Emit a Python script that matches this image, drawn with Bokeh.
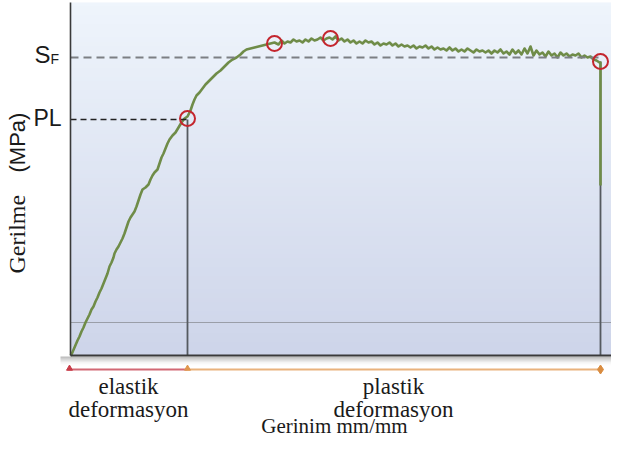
import numpy as np
from bokeh.plotting import figure
from bokeh.core.properties import value
from bokeh.embed import file_html
from bokeh.resources import INLINE

# ---------------- data (strain mm/mm, stress MPa) ----------------
strain = [0.000, 0.001, 0.004, 0.007, 0.009, 0.011, 0.013, 0.015, 0.017, 0.019, 0.021, 0.023, 0.025,
          0.027, 0.029, 0.031, 0.033, 0.035, 0.037, 0.039, 0.041, 0.043, 0.044, 0.046, 0.048, 0.050,
          0.052, 0.054, 0.056, 0.058, 0.060, 0.062, 0.064, 0.066, 0.068, 0.070, 0.072, 0.075, 0.078,
          0.080, 0.082, 0.084, 0.087, 0.089, 0.091, 0.093, 0.095, 0.097, 0.099, 0.102, 0.105, 0.108,
          0.111, 0.114, 0.117, 0.120, 0.122, 0.124, 0.126, 0.129, 0.132, 0.135, 0.138, 0.142, 0.146,
          0.150, 0.154, 0.158, 0.162, 0.166, 0.170, 0.173, 0.176, 0.180, 0.184, 0.188, 0.192, 0.196,
          0.200, 0.204, 0.208, 0.211, 0.214, 0.217, 0.220, 0.223, 0.226, 0.229, 0.232, 0.235, 0.238,
          0.241, 0.244, 0.247, 0.250, 0.253, 0.256, 0.259, 0.262, 0.265, 0.268, 0.271, 0.274, 0.277,
          0.280, 0.283, 0.286, 0.289, 0.292, 0.295, 0.298, 0.301, 0.304, 0.307, 0.310, 0.313, 0.316,
          0.319, 0.322, 0.325, 0.328, 0.331, 0.334, 0.337, 0.340, 0.343, 0.346, 0.349, 0.352, 0.355,
          0.358, 0.361, 0.364, 0.367, 0.370, 0.373, 0.376, 0.379, 0.382, 0.385, 0.388, 0.391, 0.394,
          0.397, 0.400, 0.403, 0.406, 0.409, 0.412, 0.415, 0.418, 0.421, 0.424, 0.427, 0.430, 0.433,
          0.436, 0.439, 0.442, 0.445, 0.448, 0.451, 0.454, 0.457, 0.460, 0.463, 0.466, 0.469, 0.472,
          0.475, 0.478, 0.481, 0.484, 0.487, 0.490, 0.493, 0.496, 0.499, 0.502, 0.505, 0.508, 0.511,
          0.514, 0.517, 0.520, 0.523, 0.526, 0.529, 0.530, 0.530]
stress = [0, 2, 16, 30, 38, 48, 56, 66, 74, 82, 92, 98, 108,
          116, 126, 134, 144, 154, 164, 178, 186, 196, 204, 212, 218, 226,
          234, 244, 256, 268, 276, 282, 288, 298, 310, 322, 332, 336, 342,
          352, 360, 366, 372, 384, 396, 404, 414, 424, 432, 440, 446, 456,
          466, 474, 478, 490, 502, 512, 520, 526, 534, 542, 548, 556, 564,
          570, 578, 586, 592, 596, 602, 608, 612, 614, 616, 618, 620, 622,
          624, 626, 622, 630, 624, 628, 626, 632, 628, 630, 626, 632, 628,
          634, 630, 632, 636, 630, 634, 636, 632, 638, 630, 634, 628, 632,
          626, 630, 624, 628, 624, 630, 626, 628, 622, 626, 620, 624, 622,
          626, 620, 624, 618, 622, 618, 620, 616, 620, 614, 618, 616, 620,
          614, 618, 612, 616, 612, 614, 610, 616, 610, 614, 608, 612, 608,
          614, 610, 606, 612, 608, 610, 606, 610, 604, 610, 606, 612, 604,
          608, 602, 612, 604, 610, 602, 614, 604, 618, 600, 610, 602, 606,
          598, 608, 600, 604, 596, 606, 600, 604, 598, 602, 600, 604, 596,
          600, 596, 598, 592, 590, 586, 586, 340]

# marked points (red circles): proportional limit, yield, ultimate, fracture
mark_strain = [0.117, 0.204, 0.260, 0.530]
mark_stress = [474, 624, 634, 588]

pl_strain = 0.117
pl_stress = 472
sf_stress = 596
fracture_strain = 0.530
base_stress = 66

# ---------------- figure ----------------
X_MAX = 0.541
Y_MAX = 710
p = figure(width=611, height=438, x_range=(-0.070, X_MAX), y_range=(-166, Y_MAX),
           toolbar_location=None, output_backend="svg", min_border=0,
           x_axis_location=None, y_axis_location=None,
           background_fill_color="white", border_fill_color="white",
           outline_line_color=None)
p.grid.visible = False


def sx(px):
    return (px - 70) / 1000


def sy(py):
    return (355 - py) * 2


# background gradient of the plot panel
n = 80
bg = np.empty((n, 1), dtype=np.uint32)
v = bg.view(dtype=np.uint8).reshape((n, 1, 4))
t = np.linspace(0, 1, n)
bottom_c = np.array([206, 213, 234])
top_c = np.array([239, 245, 252])
for i in range(n):
    c = bottom_c + (top_c - bottom_c) * t[i]
    v[i, 0, 0:3] = c.astype(np.uint8)
    v[i, 0, 3] = 255
p.image_rgba(image=[bg], x=0, y=0, dw=X_MAX, dh=sy(2))

# shadow below bottom axis
m = 12
sh = np.empty((m, 1), dtype=np.uint32)
w = sh.view(dtype=np.uint8).reshape((m, 1, 4))
for i in range(m):
    w[i, 0, 0:3] = 110
    w[i, 0, 3] = int(120 * (i / (m - 1)) ** 2)
p.image_rgba(image=[sh], x=sx(60), y=sy(367), dw=X_MAX - sx(60), dh=sy(356) - sy(367))

# thin base line
p.line([0, X_MAX], [base_stress, base_stress], line_color="#9a9ea8", line_width=1)

# vertical drop lines
p.line([pl_strain, pl_strain], [0, pl_stress], line_color="#555a60", line_width=1.8)
p.line([fracture_strain, fracture_strain], [0, mark_stress[3]], line_color="#555a60", line_width=1.8)

# curve
p.line(strain, stress, line_color="#6f8c48", line_width=2.6, line_join="round")

# dashed reference lines
p.line([0, fracture_strain], [sf_stress, sf_stress], line_color="#7c7f84",
       line_width=2, line_dash="8 5")
p.line([0, pl_strain], [pl_stress, pl_stress], line_color="#222222",
       line_width=1.5, line_dash="6 4")

# axes lines
p.line([0, 0], [0, sy(2)], line_color="#3a3a3a", line_width=1.6)
p.line([0, X_MAX], [0, 0], line_color="#3a3a3a", line_width=2)

# red circles
p.scatter(mark_strain, mark_stress, marker="circle", size=15, fill_color=None,
          line_color="#c4262e", line_width=2)

# elastic / plastic range bars
ry = sy(369)
p.line([sx(67), pl_strain], [ry, ry], line_color="#d26874", line_width=2)
p.line([pl_strain, fracture_strain], [ry, ry], line_color="#e9b27c", line_width=2)
p.scatter([sx(69)], [ry + 2], marker="triangle", size=6, fill_color="#c83c48", line_color="#c83c48")
p.scatter([pl_strain], [ry + 2], marker="triangle", size=6, fill_color="#e0964e", line_color="#e0964e")
p.scatter([fracture_strain], [ry], marker="diamond", size=9, fill_color="#d98c40", line_color="#d98c40")

# texts
serif = value("Liberation Serif")
sans = value("Liberation Sans")
p.text(x=[sx(128), sx(128), sx(393), sx(393)],
       y=[sy(386), sy(409), sy(386), sy(409)],
       text=["elastik", "deformasyon", "plastik", "deformasyon"],
       text_font=serif, text_font_size="23px", text_color="#1a1a1a",
       text_align="center", text_baseline="middle")
p.text(x=[sx(334)], y=[sy(425)], text=["Gerinim mm/mm"],
       text_font=serif, text_font_size="21px", text_color="#1a1a1a",
       text_align="center", text_baseline="middle")

p.text(x=[sx(16)], y=[sy(273)], text=["Gerilme"], angle=np.pi / 2,
       text_font=serif, text_font_size="24px", text_color="#1a1a1a",
       text_align="left", text_baseline="middle")
p.text(x=[sx(17)], y=[sy(172)], text=["(MPa)"], angle=np.pi / 2,
       text_font=sans, text_font_size="22px", text_color="#1a1a1a",
       text_align="left", text_baseline="middle")

p.text(x=[sx(34)], y=[sy(54)], text=["S"], text_font=sans, text_font_size="24px",
       text_color="#1a1a1a", text_align="left", text_baseline="middle")
p.text(x=[sx(50)], y=[sy(58)], text=["F"], text_font=sans, text_font_size="14px",
       text_color="#1a1a1a", text_align="left", text_baseline="middle")
p.text(x=[sx(33)], y=[sy(117)], text=["PL"], text_font=sans, text_font_size="23px",
       text_color="#1a1a1a", text_align="left", text_baseline="middle")

open("out.html", "w").write(file_html(p, INLINE))
